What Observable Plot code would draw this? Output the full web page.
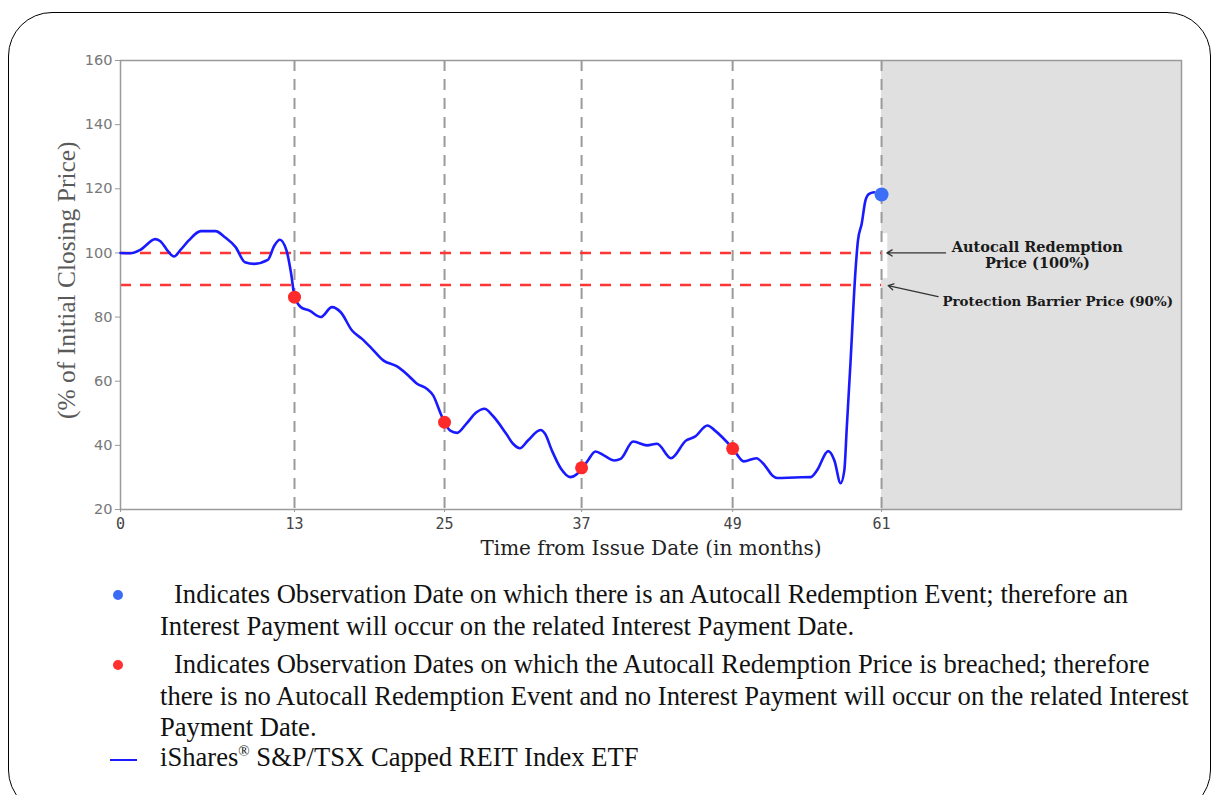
<!DOCTYPE html>
<html>
<head>
<meta charset="utf-8">
<script src="https://cdn.jsdelivr.net/npm/d3@7"></script>
<script src="https://cdn.jsdelivr.net/npm/@observablehq/plot@0.6"></script>
<style>
  html, body { margin: 0; padding: 0; background: #fff; overflow: hidden; width: 1216px; height: 795px; }
  #box { position: absolute; left: 8px; top: 12px; width: 1201px; height: 800px; border: 1.5px solid #000; border-radius: 44px; }
  #chart { position: absolute; left: 0; top: 0; }
  .leg { position: absolute; font-family: "Liberation Serif", "Times New Roman", serif; font-size: 26.6px; color: #111; white-space: nowrap; line-height: 32px; }
  .dot { position: absolute; width: 10px; height: 10px; border-radius: 50%; }
</style>
</head>
<body>
<div id="box"></div>
<div id="chart"></div>
<div class="dot" style="left:113px;top:590px;background:#3b6cf5"></div>
<div class="leg" style="left:174px;top:578px">Indicates Observation Date on which there is an Autocall Redemption Event; therefore an</div>
<div class="leg" style="left:160px;top:610px">Interest Payment will occur on the related Interest Payment Date.</div>
<div class="dot" style="left:113px;top:660px;background:#ff3030"></div>
<div class="leg" style="left:174px;top:648px">Indicates Observation Dates on which the Autocall Redemption Price is breached; therefore</div>
<div class="leg" style="left:160px;top:680px">there is no Autocall Redemption Event and no Interest Payment will occur on the related Interest</div>
<div class="leg" style="left:160px;top:711px">Payment Date.</div>
<div style="position:absolute;left:110px;top:759px;width:27px;height:2px;background:#1a1aff"></div>
<div class="leg" style="left:160px;top:741px">iShares<sup style="font-size:15px;line-height:0">®</sup> S&amp;P/TSX Capped REIT Index ETF</div>
<script>
// ---- data ----
const months = [0, 0.75, 1.5, 2.6, 3.0, 3.5, 4.0, 4.5, 5.1, 6.0, 7.1, 7.8, 8.6, 9.3, 10.0, 11.0, 11.5, 11.9, 12.4, 12.75, 13.0, 13.5, 14.2, 15.1, 16.0, 16.7, 17.6, 18.4, 19.2, 20.1, 21.2, 22.1, 22.8, 23.6, 24.1, 24.7, 25.0, 25.5, 26.1, 26.9, 27.8, 28.5, 29.2, 30.4, 31.0, 31.6, 32.3, 33.4, 33.8, 34.4, 35.2, 36.0, 36.6, 37.05, 37.5, 38.1, 38.8, 39.6, 40.1, 41.1, 42.2, 43.0, 44.1, 45.3, 46.0, 47.0, 47.6, 49.0, 49.9, 50.9, 51.6, 52.2, 52.6, 54.0, 55.3, 55.8, 56.7, 57.2, 57.7, 58.0, 58.2, 58.5, 58.9, 59.1, 59.4, 59.7, 60.0, 60.4];
const values = [100, 99.9, 101, 104.3, 103.6, 100.8, 98.9, 101, 103.9, 106.8, 106.8, 104.9, 101.8, 97.1, 96.6, 97.8, 102.3, 104.1, 100.8, 93.5, 86.5, 83.1, 82, 80, 83.1, 81.5, 75.8, 73.2, 70.1, 66.5, 64.6, 61.8, 59.2, 57.6, 55.5, 49.8, 47.2, 44.6, 43.9, 46.7, 50.3, 51.4, 49.3, 43.6, 40.5, 39.1, 41.5, 44.8, 43.6, 38.4, 32.7, 30.1, 31.1, 32.9, 35.3, 38.1, 36.8, 35.3, 35.8, 41.2, 40.0, 40.5, 36.0, 41.5, 42.7, 46.2, 44.6, 39.1, 35.0, 36.0, 33.7, 30.6, 29.8, 30.0, 30.1, 32.2, 38.2, 35.3, 28.2, 32.2, 45.7, 66, 94.5, 103.9, 109.1, 116.3, 118.4, 118.9];

const obsMonths = [13, 25, 37, 49, 61];
const breachMonths = [13, 25, 37, 49];
const breachValues = [86.2, 47.2, 33, 39];
const autocallMonth = [61];
const autocallValue = [118.2];
const levels = [100, 90];
const levelNames = ["Autocall Redemption\nPrice (100%)", "Protection Barrier Price (90%)"];
const shadeFrom = 61, shadeTo = 85;
const xTicks = [0, 13, 25, 37, 49, 61];
const yTicks = [20, 40, 60, 80, 100, 120, 140, 160];
const xLabel = "Time from Issue Date (in months)";
const yLabel = "(% of Initial Closing Price)";

// uneven axis of the reference: month -> axis position (in axis units 0..85)
const xBreaks = [0, 13, 25, 37, 49, 61, 85];
const xAxisPos = [0, 13.94, 25.96, 36.94, 49.04, 60.97, 85];
const warp = d3.scaleLinear().domain(xBreaks).range(xAxisPos);
const tickPos = xTicks.map(warp);
const tickLabel = d => { const i = d3.leastIndex(tickPos, p => Math.abs(p - d)); return String(xTicks[i]); };

const series = months.map((m, i) => ({x: warp(m), v: values[i]}));
const breaches = breachMonths.map((m, i) => ({x: warp(m), v: breachValues[i]}));
const autocall = autocallMonth.map((m, i) => ({x: warp(m), v: autocallValue[i]}));
const obsPos = obsMonths.map(warp);

const chart = Plot.plot({
  width: 1216,
  height: 570,
  marginLeft: 120,
  marginRight: 35,
  marginTop: 60,
  marginBottom: 61,
  style: {background: "transparent", overflow: "visible"},
  x: {domain: [0, 85]},
  y: {domain: [20, 160]},
  marks: [
    Plot.rect([{x1: warp(shadeFrom), x2: warp(shadeTo)}], {x1: "x1", x2: "x2", y1: 20, y2: 160, fill: "#e0e0e0"}),
    Plot.rect([{x1: warp(shadeFrom), x2: warp(shadeFrom) + 0.5}], {x1: "x1", x2: "x2", y1: 92, y2: 106, fill: "#fff"}),
    Plot.ruleX(obsPos, {stroke: "#9a9a9a", strokeWidth: 2, strokeDasharray: "11,8"}),
    Plot.ruleY(levels, {x1: 0, x2: warp(shadeFrom), stroke: "#ff3535", strokeWidth: 2.5, strokeDasharray: "11,9"}),
    Plot.frame({stroke: "#9a9a9a", strokeWidth: 1.5}),
    Plot.axisY({ticks: yTicks, tickSize: 5, label: null, stroke: "#999", fill: "#777", fontSize: 14.5, fontFamily: "DejaVu Sans", tickPadding: 3}),
    Plot.axisX({ticks: tickPos, tickFormat: tickLabel, tickSize: 3, label: null, stroke: "#999", fill: "#444", fontSize: 15, fontFamily: "DejaVu Sans Mono", tickPadding: 6}),
    Plot.text([yLabel], {x: -4.3, y: 91.5, rotate: -90, fontSize: 25.5, fontFamily: "Liberation Serif", fill: "#5a5a5a"}),
    Plot.text([xLabel], {frameAnchor: "bottom", dy: 45, fontSize: 20, fontFamily: "DejaVu Serif", fill: "#222"}),
    Plot.line(series, {x: "x", y: "v", stroke: "#1a1aff", strokeWidth: 2.6, curve: "monotone-x"}),
    Plot.dot(breaches, {x: "x", y: "v", r: 6.5, fill: "#ff2a2a"}),
    Plot.dot(autocall, {x: "x", y: "v", r: 7, fill: "#3d6ef7"}),
    Plot.arrow([{x1: 66.1, y1: 100, x2: 61.4, y2: 100}, {x1: 65.5, y1: 86.4, x2: 61.5, y2: 89.8}],
      {x1: "x1", y1: "y1", x2: "x2", y2: "y2", stroke: "#333", strokeWidth: 1.3, headLength: 7}),
    Plot.text([levelNames[0]], {x: 73.45, y: 99.5, fontSize: 14.5, fontWeight: "bold", fontFamily: "DejaVu Serif", fill: "#1a1a1a", lineHeight: 1.1}),
    Plot.text([levelNames[1]], {x: 65.85, y: 84.9, textAnchor: "start", fontSize: 13.4, fontWeight: "bold", fontFamily: "DejaVu Serif", fill: "#1a1a1a"})
  ]
});
document.getElementById("chart").appendChild(chart);
</script>
</body>
</html>
